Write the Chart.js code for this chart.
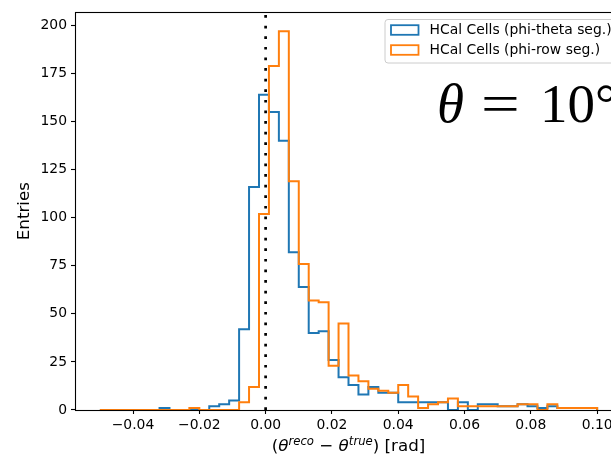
<!DOCTYPE html>
<html>
<head>
<meta charset="utf-8">
<script src="https://cdn.jsdelivr.net/npm/chart.js@4.4.1/dist/chart.umd.min.js"></script>
<style>
  html, body { margin: 0; padding: 0; background: #ffffff; overflow: hidden; width: 611px; height: 454px; }
  canvas { display: block; }
</style>
</head>
<body>
<canvas id="c" width="640" height="454"></canvas>
<script>
// ---- data ----
const binEdges = [-0.050,-0.047,-0.044,-0.041,-0.038,-0.035,-0.032,-0.029,-0.026,-0.023,
  -0.020,-0.017,-0.014,-0.011,-0.008,-0.005,-0.002,0.001,0.004,0.007,
  0.010,0.013,0.016,0.019,0.022,0.025,0.028,0.031,0.034,0.037,
  0.040,0.043,0.046,0.049,0.052,0.055,0.058,0.061,0.064,0.067,
  0.070,0.073,0.076,0.079,0.082,0.085,0.088,0.091,0.094,0.097,0.100];

const phiThetaCounts = [0,0,0,0,0,0,1,0,0,0,
  0,2,3,5,42,116,164,155,140,82,
  64,40,41,26,17,13,8,12,9,9,
  4,4,4,4,4,0,4,0,3,3,
  2,2,3,2,1,2,1,1,1,1];

const phiRowCounts = [0,0,0,0,0,0,0,0,0,1,
  0,0,0,0,4,12,102,179,197,119,
  76,57,56,23,45,18,15,11,10,9,
  13,7,1,3,4,6,2,2,2,2,
  2,2,3,3,0,3,1,1,1,1];

const seriesLabels = ['HCal Cells (phi-theta seg.)', 'HCal Cells (phi-row seg.)'];
const xTickValues = [-0.04, -0.02, 0.00, 0.02, 0.04, 0.06, 0.08, 0.10];
const yTickValues = [0, 25, 50, 75, 100, 125, 150, 175, 200];
const referenceX = [0];

// ---- helpers ----
function stepPoints(edges, counts) {
  const pts = [{x: edges[0], y: 0}];
  for (let k = 0; k < counts.length; k++) pts.push({x: edges[k], y: counts[k]});
  pts.push({x: edges[edges.length - 1], y: counts[counts.length - 1]});
  pts.push({x: edges[edges.length - 1], y: 0});
  return pts;
}
const allCounts = phiThetaCounts.concat(phiRowCounts);
const yMax = Math.max(...allCounts) * 1.05;
const xSpan = binEdges[binEdges.length - 1] - binEdges[0];
const xMin = binEdges[0] - 0.05 * xSpan;
const xMax = binEdges[binEdges.length - 1] + 0.05 * xSpan;

const BLUE = '#1f77b4', ORANGE = '#ff7f0e';
const FONT = '"DejaVu Sans", sans-serif';
const FS = 13.9;   // tick / legend text
const LFS = 16.7;  // axis labels

const fmt = v => (v < 0 ? '\u2212' : '') + Math.abs(v).toFixed(2);

const decor = {
  id: 'decor',
  afterDraw(chart) {
    const ctx = chart.ctx, ca = chart.chartArea;
    ctx.save();
    // spines
    ctx.strokeStyle = '#000'; ctx.lineWidth = 1.1;
    ctx.strokeRect(Math.round(ca.left) + 0.5, Math.round(ca.top) + 0.5,
      Math.round(ca.right - ca.left), Math.round(ca.bottom - ca.top));

    // y title
    ctx.fillStyle = '#000';
    ctx.font = LFS + 'px ' + FONT;
    ctx.textAlign = 'center'; ctx.textBaseline = 'middle';
    ctx.save();
    ctx.translate(25, (ca.top + ca.bottom) / 2);
    ctx.rotate(-Math.PI / 2);
    ctx.fillText('Entries', 0, 0);
    ctx.restore();

    // x title with superscripts
    const base = LFS + 'px ' + FONT;
    const ital = 'italic ' + LFS + 'px ' + FONT;
    const sup = 'italic ' + (LFS * 0.7) + 'px ' + FONT;
    const parts = [
      ['(', base, 0], ['\u03B8', ital, 0], ['reco', sup, -6.5],
      [' \u2212 ', base, 0], ['\u03B8', ital, 0], ['true', sup, -6.5], [') [rad]', base, 0]
    ];
    let total = 0;
    parts.forEach(p => { ctx.font = p[1]; total += ctx.measureText(p[0]).width; });
    let x = (ca.left + ca.right) / 2 - total / 2;
    const by = 451;
    ctx.textAlign = 'left'; ctx.textBaseline = 'alphabetic';
    parts.forEach(p => { ctx.font = p[1]; ctx.fillText(p[0], x, by + p[2]); x += ctx.measureText(p[0]).width; });

    // legend
    const lx = 385, ly = 19.5, lw = ca.right - 7 - lx, lh = 43.5, r = 3;
    ctx.beginPath();
    ctx.moveTo(lx + r, ly); ctx.lineTo(lx + lw - r, ly); ctx.arcTo(lx + lw, ly, lx + lw, ly + r, r);
    ctx.lineTo(lx + lw, ly + lh - r); ctx.arcTo(lx + lw, ly + lh, lx + lw - r, ly + lh, r);
    ctx.lineTo(lx + r, ly + lh); ctx.arcTo(lx, ly + lh, lx, ly + lh - r, r);
    ctx.lineTo(lx, ly + r); ctx.arcTo(lx, ly, lx + r, ly, r); ctx.closePath();
    ctx.fillStyle = 'rgba(255,255,255,0.8)'; ctx.fill();
    ctx.strokeStyle = '#cccccc'; ctx.lineWidth = 1; ctx.stroke();
    const cols = [BLUE, ORANGE];
    ctx.font = FS + 'px ' + FONT; ctx.textBaseline = 'middle'; ctx.textAlign = 'left';
    seriesLabels.forEach((lab, i) => {
      const cy = 30 + i * 20;
      ctx.strokeStyle = cols[i]; ctx.lineWidth = 1.8;
      ctx.strokeRect(391, cy - 4.8, 27.5, 9.6);
      ctx.fillStyle = '#000';
      ctx.fillText(lab, 429.5, cy + 0.5);
    });

    // theta annotation
    const tf = 55;
    ctx.textBaseline = 'alphabetic';
    ctx.fillStyle = '#000';
    ctx.font = 'italic ' + tf + 'px "Liberation Serif", serif';
    ctx.fillText('\u03B8', 437, 122);
    ctx.font = tf + 'px "Liberation Serif", serif';
    ctx.save();
    ctx.translate(481, 122); ctx.scale(1.25, 1);
    ctx.fillText('=', 0, 0);
    ctx.restore();
    ctx.fillText('10\u00B0', 540, 122);
    ctx.restore();
  }
};

new Chart(document.getElementById('c'), {
  type: 'line',
  data: {
    datasets: [
      { label: seriesLabels[0], data: stepPoints(binEdges, phiThetaCounts), borderColor: BLUE,
        borderWidth: 2, stepped: true, pointRadius: 0, fill: false, order: 2 },
      { label: seriesLabels[1], data: stepPoints(binEdges, phiRowCounts), borderColor: ORANGE,
        borderWidth: 2, stepped: true, pointRadius: 0, fill: false, order: 1 },
      { label: 'ref', data: [{x: referenceX[0], y: 0}, {x: referenceX[0], y: yMax}], borderColor: '#000',
        borderWidth: 2.7, borderDash: [2.7, 7.9], borderCapStyle: 'butt', pointRadius: 0, fill: false, order: 0 }
    ]
  },
  options: {
    responsive: false,
    devicePixelRatio: 1,
    animation: false,
    layout: { padding: { top: 12, right: 640 - 622, left: 0, bottom: 0 } },
    plugins: { legend: { display: false }, tooltip: { enabled: false } },
    scales: {
      x: {
        type: 'linear', min: xMin, max: xMax,
        afterBuildTicks: s => { s.ticks = xTickValues.map(v => ({ value: v })); },
        afterFit: s => { s.height = 44; },
        border: { display: false },
        grid: { drawOnChartArea: false, drawTicks: true, tickLength: 4, tickColor: '#000', tickWidth: 1.1 },
        ticks: { color: '#000', font: { family: FONT, size: FS }, padding: 3, maxRotation: 0, autoSkip: false,
          callback: v => fmt(v) }
      },
      y: {
        type: 'linear', min: 0, max: yMax,
        afterBuildTicks: s => { s.ticks = yTickValues.map(v => ({ value: v })); },
        afterFit: s => { s.width = 75; },
        border: { display: false },
        grid: { drawOnChartArea: false, drawTicks: true, tickLength: 4, tickColor: '#000', tickWidth: 1.1 },
        ticks: { color: '#000', font: { family: FONT, size: FS }, padding: 4, callback: v => String(v) }
      }
    }
  },
  plugins: [decor]
});
</script>
</body>
</html>
